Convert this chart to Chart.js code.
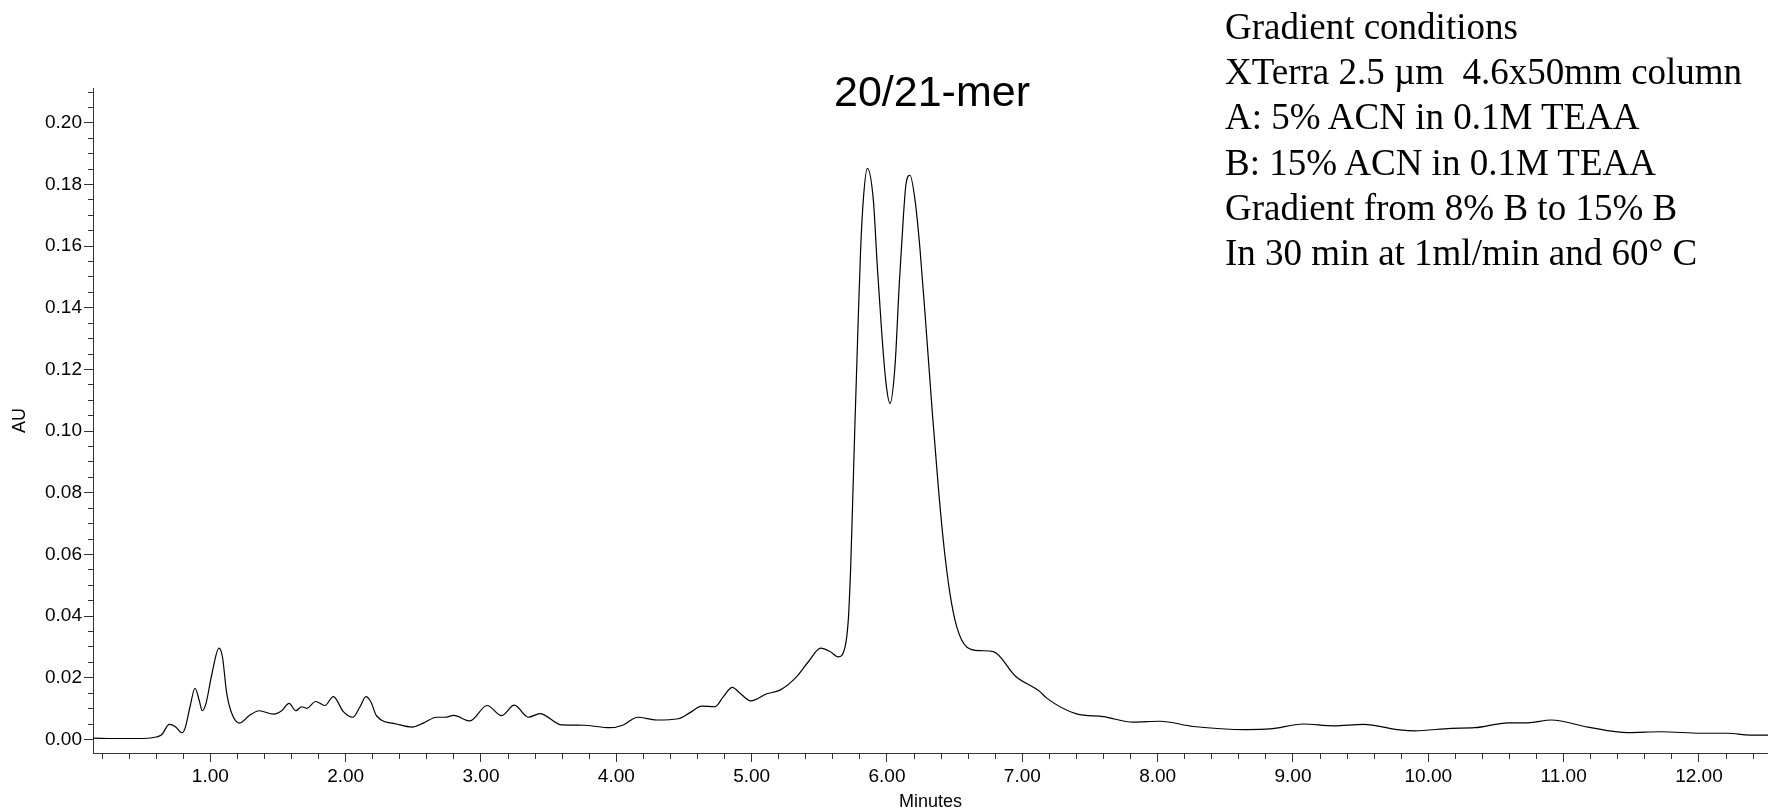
<!DOCTYPE html>
<html>
<head>
<meta charset="utf-8">
<title>20/21-mer chromatogram</title>
<script src="https://cdn.jsdelivr.net/npm/chart.js@4.4.1/dist/chart.umd.min.js"></script>
<style>
  body { margin: 0; background: #fff; }
  #wrap { position: relative; width: 1768px; height: 811px; }
  #peakLabel {
    position: absolute; left: 829px; top: 70px; width: 206px; text-align: center;
    font: 43px/1 "Liberation Sans", Arial, sans-serif; color: #000;
  }
  #conditions {
    position: absolute; left: 1225px; top: 4px;
    font: 37px/45.2px "Liberation Serif", "Times New Roman", serif; color: #000;
    white-space: pre;
  }
</style>
</head>
<body>
<div id="wrap">
  <canvas id="chromChart" width="1768" height="811"></canvas>
  <div id="peakLabel">20/21-mer</div>
  <div id="conditions">Gradient conditions
XTerra 2.5 µm  4.6x50mm column
A: 5% ACN in 0.1M TEAA
B: 15% ACN in 0.1M TEAA
Gradient from 8% B to 15% B
In 30 min at 1ml/min and 60° C</div>
</div>
<script>
// retention time (min)
const minutes = [
  0.135, 0.30, 0.45, 0.60, 0.64, 0.697, 0.74, 0.79, 0.813, 0.85,
  0.887, 0.917, 0.941, 0.968, 1.01, 1.064, 1.089, 1.121, 1.158, 1.215,
  1.293, 1.362, 1.466, 1.527, 1.582, 1.631, 1.675, 1.712, 1.779, 1.847,
  1.909, 1.983, 2.052, 2.106, 2.15, 2.185, 2.229, 2.377, 2.49, 2.574,
  2.672, 2.734, 2.798, 2.919, 3.045, 3.153, 3.246, 3.35, 3.436, 3.596,
  3.756, 3.953, 4.052, 4.158, 4.298, 4.458, 4.544, 4.631, 4.729, 4.791,
  4.857, 4.914, 4.993, 5.111, 5.209, 5.333, 5.419, 5.51, 5.579, 5.64,
  5.69, 5.714, 5.731, 5.746, 5.764, 5.788, 5.805, 5.825, 5.855, 5.899,
  5.929, 5.961, 5.993, 6.022, 6.059, 6.091, 6.121, 6.14, 6.17, 6.207,
  6.244, 6.288, 6.335, 6.379, 6.421, 6.465, 6.515, 6.589, 6.687, 6.786,
  6.95, 7.13, 7.18, 7.401, 7.598, 7.82, 8.017, 8.263, 8.658, 8.83,
  9.076, 9.298, 9.52, 9.79, 9.899, 10.17, 10.342, 10.59, 10.736, 10.909,
  11.18, 11.475, 11.72, 12.016, 12.21, 12.38, 12.51
];
// absorbance (AU)
const au = [
  0.0004, 0.0003, 0.0003, 0.0008, 0.0015, 0.0049, 0.0042, 0.0022, 0.0036, 0.0106,
  0.0166, 0.0128, 0.0093, 0.0117, 0.0209, 0.0296, 0.0269, 0.015, 0.0085, 0.0053,
  0.0079, 0.0093, 0.0082, 0.0093, 0.0117, 0.0093, 0.0106, 0.0101, 0.0123, 0.011,
  0.0139, 0.009, 0.0072, 0.0106, 0.0139, 0.0123, 0.0076, 0.005, 0.004, 0.0053,
  0.0072, 0.0072, 0.0078, 0.006, 0.011, 0.0077, 0.0111, 0.0072, 0.0084, 0.0047,
  0.0046, 0.0038, 0.0047, 0.0072, 0.0063, 0.0067, 0.0087, 0.0108, 0.0106, 0.0139,
  0.0169, 0.015, 0.0125, 0.0148, 0.016, 0.0204, 0.0252, 0.0296, 0.0285, 0.0268,
  0.030, 0.0387, 0.055, 0.0766, 0.1036, 0.137, 0.1587, 0.175, 0.1852, 0.175,
  0.153, 0.132, 0.1155, 0.109, 0.121, 0.148, 0.1695, 0.180, 0.183, 0.175,
  0.159, 0.134, 0.106, 0.082, 0.0625, 0.0474, 0.0366, 0.030, 0.0288, 0.0285,
  0.0205, 0.0155, 0.0134, 0.0083, 0.0074, 0.0056, 0.0059, 0.0042, 0.0032, 0.0034,
  0.005, 0.0044, 0.0049, 0.0031, 0.0028, 0.0036, 0.0038, 0.0054, 0.0054, 0.0063,
  0.004, 0.0022, 0.0025, 0.002, 0.002, 0.0014, 0.0014
];

// axis ticks
const xMajorTicks = [1, 2, 3, 4, 5, 6, 7, 8, 9, 10, 11, 12];
const yMajorTicks = [0, 0.02, 0.04, 0.06, 0.08, 0.10, 0.12, 0.14, 0.16, 0.18, 0.20];
const xMinorStep = 0.2;
const yMinorStep = 0.005;

const xMin = 0.133, xMax = 12.51;
const yMin = -0.0044, yMax = 0.2113;

function stepTicks(lo, hi, step) {
  const out = [];
  for (let i = Math.ceil(lo / step); i * step <= hi + 1e-9; i++) {
    out.push({ value: Math.round(i * step * 1000) / 1000 });
  }
  return out;
}

const font = { family: '"Liberation Sans", Arial, sans-serif', size: 19 };
const axisColor = '#333';

new Chart(document.getElementById('chromChart'), {
  type: 'line',
  data: {
    datasets: [{
      data: minutes.map((t, i) => ({ x: t, y: au[i] })),
      borderColor: '#000',
      borderWidth: 1.2,
      pointRadius: 0,
      cubicInterpolationMode: 'monotone',
      xAxisID: 'x',
      yAxisID: 'y'
    }]
  },
  options: {
    responsive: false,
    animation: false,
    layout: { padding: { top: 88, left: 0, right: 0, bottom: 0 } },
    plugins: { legend: { display: false }, tooltip: { enabled: false } },
    scales: {
      x: {
        type: 'linear', position: 'bottom', weight: 1,
        min: xMin, max: xMax,
        afterBuildTicks: s => { s.ticks = xMajorTicks.map(v => ({ value: v })); },
        afterFit: s => { s.height = 58; },
        ticks: {
          autoSkip: false, maxRotation: 0, padding: 3, color: '#000', font,
          callback: v => Number(v).toFixed(2)
        },
        grid: { drawOnChartArea: false, tickLength: 9, tickColor: axisColor },
        border: { color: axisColor, width: 1 },
        title: {
          display: true, text: 'Minutes', color: '#000',
          font: { family: font.family, size: 18, lineHeight: 1 },
          padding: { top: 0, bottom: 0 }
        }
      },
      x2: {
        type: 'linear', position: 'bottom', weight: 0,
        min: xMin, max: xMax,
        afterBuildTicks: s => { s.ticks = stepTicks(xMin, xMax, xMinorStep); },
        afterFit: s => { s.height = 0; },
        ticks: { display: false, autoSkip: false },
        grid: { drawOnChartArea: false, tickLength: 6, tickColor: axisColor },
        border: { display: false }
      },
      y: {
        type: 'linear', position: 'left', weight: 1,
        min: yMin, max: yMax,
        afterBuildTicks: s => { s.ticks = yMajorTicks.map(v => ({ value: v })); },
        afterFit: s => { s.width = 93; },
        ticks: {
          autoSkip: false, padding: 2, color: '#000', font,
          callback: v => Number(v).toFixed(2)
        },
        grid: { drawOnChartArea: false, tickLength: 9, tickColor: axisColor },
        border: { color: axisColor, width: 1 },
        title: {
          display: true, text: 'AU', color: '#000',
          font: { family: font.family, size: 18, lineHeight: 1.2 },
          padding: { top: 9, bottom: 0 }
        }
      },
      y2: {
        type: 'linear', position: 'left', weight: 0,
        min: yMin, max: yMax,
        afterBuildTicks: s => { s.ticks = stepTicks(0, yMax, yMinorStep); },
        afterFit: s => { s.width = 0; },
        ticks: { display: false, autoSkip: false },
        grid: { drawOnChartArea: false, tickLength: 5, tickColor: axisColor },
        border: { display: false }
      }
    }
  }
});
</script>
</body>
</html>
